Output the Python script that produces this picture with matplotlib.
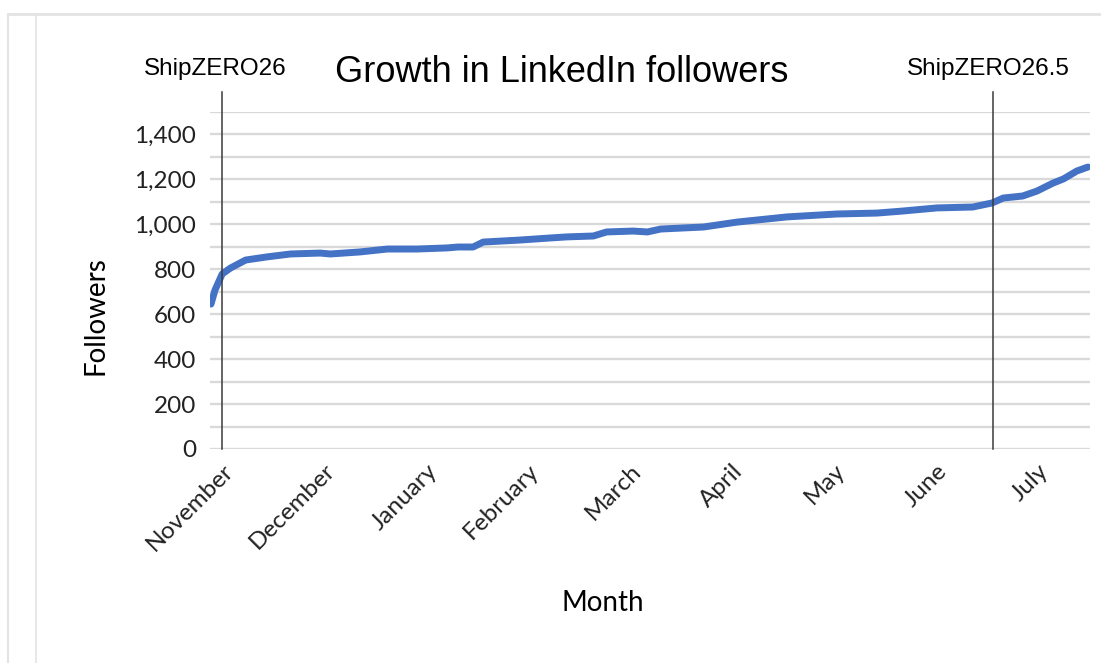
import numpy as np
import matplotlib.pyplot as plt
from matplotlib.ticker import MultipleLocator, FuncFormatter

# x is in month units (0 = November tick)
month_pos = [-0.11, -0.07, 0.0, 0.08, 0.23, 0.44, 0.67, 0.96, 1.06, 1.35, 1.62,
             1.91, 2.21, 2.31, 2.46, 2.56, 2.92, 3.21, 3.38, 3.64, 3.77, 4.03,
             4.17, 4.3, 4.72, 5.05, 5.54, 6.03, 6.42, 6.67, 7.01, 7.36, 7.55,
             7.66, 7.85, 7.99, 8.15, 8.25, 8.38, 8.49]
followers = [645, 708, 779, 805, 841, 855, 868, 872, 868, 877, 890,
             890, 895, 899, 899, 921, 930, 939, 944, 948, 966, 970,
             966, 979, 988, 1010, 1033, 1046, 1050, 1059, 1073, 1077, 1095,
             1117, 1126, 1148, 1184, 1202, 1237, 1255]

months = ["November", "December", "January", "February", "March",
          "April", "May", "June", "July"]

events = ["ShipZERO26", "ShipZERO26.5"]
event_pos = [0.0, 7.56]

fig = plt.figure(figsize=(11.01, 6.63), dpi=100)
ax = fig.add_axes([0.1907, 0.3228, 0.7993, 0.5083])

# screenshot frame
fig.add_artist(plt.Line2D([8 / 1101, 1], [1 - 14 / 663, 1 - 14 / 663], color="#e3e3e3", lw=2))
fig.add_artist(plt.Line2D([8 / 1101, 8 / 1101], [0, 1 - 14 / 663], color="#e3e3e3", lw=1.5))
fig.add_artist(plt.Line2D([36 / 1101, 36 / 1101], [0, 1 - 14 / 663], color="#e3e3e3", lw=1.2))

ax.plot(month_pos, followers, color="#4472C4", lw=5, solid_capstyle="round",
        solid_joinstyle="round", zorder=3)

for name, pos in zip(events, event_pos):
    ax.axvline(pos, ymin=0, ymax=1.06, color="#3a3a3a", lw=1.1, clip_on=False, zorder=4)

ax.set_xlim(-0.12, 8.51)
ax.set_ylim(0, 1500)

ax.yaxis.set_major_locator(MultipleLocator(200))
ax.yaxis.set_minor_locator(MultipleLocator(100))
ax.yaxis.set_major_formatter(FuncFormatter(lambda v, p: f"{int(v):,}"))
ax.grid(axis="y", which="both", color="#d9d9d9", lw=1.7, zorder=0)
ax.set_axisbelow(True)

ax.set_xticks(range(len(months)))
ax.set_xticklabels(months, rotation=45, ha="right", rotation_mode="anchor",
                   fontsize=17.5, family="Lato", color="#222222")
ax.tick_params(axis="x", length=0, pad=8)
ax.tick_params(axis="y", which="both", length=0, pad=10, labelsize=17.5, labelcolor="#222222")
for lab in ax.get_yticklabels():
    lab.set_family("Lato")

for s in ax.spines.values():
    s.set_visible(False)

fig.text(95 / 1101, 1 - 316 / 663, "Followers", rotation=90, ha="center", va="center",
         fontsize=20, family="Lato")
fig.text(603 / 1101, 1 - 603 / 663, "Month", ha="center", va="center",
         fontsize=20, family="Lato")

fig.text(562 / 1101, 1 - 72 / 663, "Growth in LinkedIn followers", ha="center", va="center",
         fontsize=26, family="Liberation Sans")
fig.text(215 / 1101, 1 - 69 / 663, events[0], ha="center", va="center",
         fontsize=17.5, family="Liberation Sans")
fig.text(988 / 1101, 1 - 69 / 663, events[1], ha="center", va="center",
         fontsize=17.5, family="Liberation Sans")

fig.savefig("out.png", dpi=100)
